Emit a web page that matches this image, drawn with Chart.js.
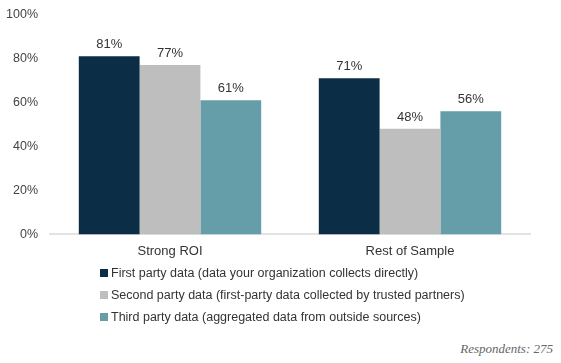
<!DOCTYPE html>
<html>
<head>
<meta charset="utf-8">
<script src="https://cdn.jsdelivr.net/npm/chart.js@4/dist/chart.umd.min.js"></script>
<style>
  body { margin: 0; background: #fff; font-family: "Liberation Sans", Arial, sans-serif; }
  #wrap { position: relative; width: 561px; height: 363px; overflow: hidden; }
  #box { position: absolute; left: 0; top: -5px; width: 561px; height: 273px; }
  #legende { position: absolute; left: 100px; top: 264px; font-size: 12.5px; color: #333; }
  #legende div { height: 22px; line-height: 18px; }
  #legende span { display: inline-block; width: 8px; height: 8px; margin-right: 3px; vertical-align: 0px; }
  #source { position: absolute; right: 8px; top: 341px; font-family: "Liberation Serif", "DejaVu Serif", serif; font-style: italic; font-size: 13px; color: #666; }
</style>
</head>
<body>
<div id="wrap">
  <div id="box"><canvas id="chartRoi"></canvas></div>
  <div id="legende"></div>
  <div id="source">Respondents: 275</div>
</div>
<script>
const categories = ['Strong ROI', 'Rest of Sample'];
const premierePartie = [81, 71];
const deuxiemePartie = [77, 48];
const troisiemePartie = [61, 56];
const seriesLabels = [
    'First party data (data your organization collects directly)',
    'Second party data (first-party data collected by trusted partners)',
    'Third party data (aggregated data from outside sources)'
];
const couleurs = ['#0b2d45', '#bebebe', '#659ea9'];
const yTicks = [0, 20, 40, 60, 80, 100];

// étiquettes de valeur au-dessus des barres
const etiquettes = {
    id: 'etiquettes',
    afterDatasetsDraw(chart) {
        const ctx = chart.ctx;
        ctx.save();
        ctx.font = '13px "Liberation Sans", Arial, sans-serif';
        ctx.fillStyle = '#333';
        ctx.textAlign = 'center';
        ctx.textBaseline = 'bottom';
        chart.data.datasets.forEach((ds, i) => {
            chart.getDatasetMeta(i).data.forEach((bar, j) => {
                ctx.fillText(ds.data[j] + '%', bar.x, bar.y - 5);
            });
        });
        ctx.restore();
    }
};

const ctxRoi = document.getElementById('chartRoi');
if (ctxRoi) {
    new Chart(ctxRoi, {
        type: 'bar',
        data: {
            labels: categories,
            datasets: [premierePartie, deuxiemePartie, troisiemePartie].map((d, i) => ({
                label: seriesLabels[i],
                data: d,
                backgroundColor: couleurs[i],
                barPercentage: 1,
                categoryPercentage: 0.76
            }))
        },
        options: {
            responsive: true,
            maintainAspectRatio: false,
            animation: false,
            layout: { padding: { top: 1, right: 31, left: 0, bottom: 0 } },
            plugins: { legend: { display: false }, tooltip: { enabled: false } },
            scales: {
                x: {
                    grid: { display: false, drawTicks: false },
                    border: { color: '#e3e3e3', width: 2 },
                    ticks: { color: '#333', font: { size: 13 }, padding: 9 }
                },
                y: {
                    min: 0,
                    max: 100,
                    afterFit(scale) { scale.width = 50; },
                    afterBuildTicks(scale) { scale.ticks = yTicks.map(v => ({ value: v })); },
                    grid: { display: false, drawTicks: false },
                    border: { display: false },
                    ticks: { color: '#444', font: { size: 12.5 }, padding: 12, callback: v => v + '%' }
                }
            }
        },
        plugins: [etiquettes]
    });
}

const legende = document.getElementById('legende');
seriesLabels.forEach((txt, i) => {
    const ligne = document.createElement('div');
    ligne.innerHTML = '<span style="background:' + couleurs[i] + '"></span>' + txt;
    legende.appendChild(ligne);
});
</script>
</body>
</html>
